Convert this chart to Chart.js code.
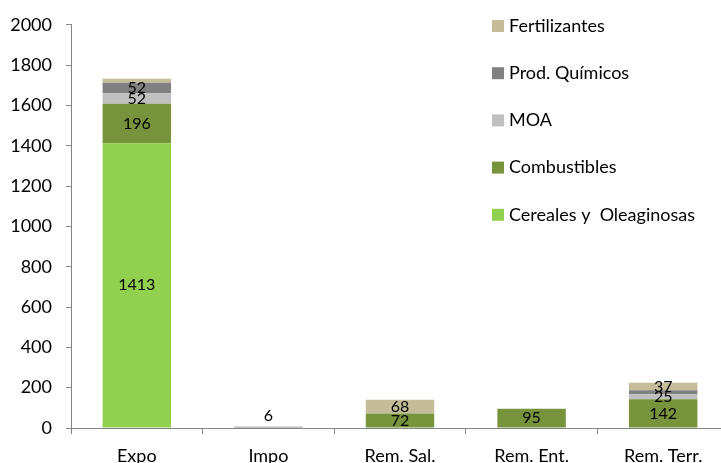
<!DOCTYPE html>
<html>
<head>
<meta charset="utf-8">
<script src="https://cdn.jsdelivr.net/npm/chart.js@4"></script>
<style>
html, body { margin: 0; padding: 0; background: #fff; overflow: hidden; }
#wrap { width: 729px; height: 463px; }
</style>
</head>
<body>
<div id="wrap"><canvas id="chart"></canvas></div>
<script>
const categories = ['Expo', 'Impo', 'Rem. Sal.', 'Rem. Ent.', 'Rem. Terr.'];
const cereales = [1413, 0, 0, 0, 0];
const combustibles = [196, 0, 72, 95, 142];
const moa = [52, 0, 0, 0, 25];
const prodQuimicos = [52, 6, 0, 0, 20];
const fertilizantes = [20, 0, 68, 0, 37];
const yTicks = [0, 200, 400, 600, 800, 1000, 1200, 1400, 1600, 1800, 2000];

const FONT = 'Lato, "Open Sans", sans-serif';
const axisColor = '#868686';

// value labels: centred in the segment, small stacks get it above the bar
const valueLabels = {
    id: 'valueLabels',
    afterDatasetsDraw(chart) {
        const ctx = chart.ctx;
        ctx.save();
        ctx.font = '16px ' + FONT;
        ctx.fillStyle = '#000';
        ctx.textAlign = 'center';
        ctx.textBaseline = 'middle';
        chart.data.datasets.forEach((ds, di) => {
            const meta = chart.getDatasetMeta(di);
            meta.data.forEach((bar, i) => {
                const v = ds.data[i];
                if (!v) return;
                const total = chart.data.datasets.reduce((s, d) => s + (d.data[i] || 0), 0);
                if (total < 25) {
                    ctx.fillText(v, bar.x, bar.y - 11);
                } else if (v >= 25) {
                    ctx.fillText(v, bar.x, (bar.y + bar.base) / 2);
                }
            });
        });
        ctx.restore();
    }
};

// legend inside the plot, top series first
const sideLegend = {
    id: 'sideLegend',
    afterDraw(chart) {
        const ctx = chart.ctx;
        ctx.save();
        ctx.font = '18px ' + FONT;
        ctx.textBaseline = 'middle';
        ctx.textAlign = 'left';
        const items = chart.data.datasets.slice().reverse();
        items.forEach((ds, k) => {
            const y = 26 + k * 47.2;
            ctx.fillStyle = ds.backgroundColor;
            ctx.fillRect(492, y - 6, 12, 12);
            ctx.fillStyle = '#000';
            ctx.fillText(ds.label, 509, y);
        });
        ctx.restore();
    }
};

new Chart(document.getElementById('chart'), {
    type: 'bar',
    data: {
        labels: categories,
        datasets: [
            { label: 'Cereales y  Oleaginosas', data: cereales, backgroundColor: '#92D050' },
            { label: 'Combustibles', data: combustibles, backgroundColor: '#77933C' },
            { label: 'MOA', data: moa, backgroundColor: '#BFBFBF' },
            { label: 'Prod. Químicos', data: prodQuimicos, backgroundColor: '#808080' },
            { label: 'Fertilizantes', data: fertilizantes, backgroundColor: '#C4BD97' }
        ]
    },
    options: {
        responsive: true,
        maintainAspectRatio: false,
        animation: false,
        layout: { padding: { top: 15, right: 0, left: 0, bottom: 0 } },
        datasets: { bar: { categoryPercentage: 1, barPercentage: 0.52 } },
        plugins: { legend: { display: false }, tooltip: { enabled: false } },
        scales: {
            x: {
                stacked: true,
                grid: { drawOnChartArea: false, tickLength: 6, color: axisColor },
                border: { color: axisColor },
                ticks: { color: '#000', font: { family: FONT, size: 18 }, padding: 11, autoSkip: false, maxRotation: 0 },
                afterFit: (s) => { s.height = 35; }
            },
            y: {
                stacked: true,
                min: 0,
                max: 2000,
                afterBuildTicks: (s) => { s.ticks = yTicks.map(v => ({ value: v })); },
                grid: { drawOnChartArea: false, tickLength: 5, color: axisColor },
                border: { color: axisColor },
                ticks: { color: '#000', font: { family: FONT, size: 18 }, padding: 14, callback: (v) => String(v) },
                afterFit: (s) => { s.width = 71; }
            }
        }
    },
    plugins: [valueLabels, sideLegend]
});
</script>
</body>
</html>
